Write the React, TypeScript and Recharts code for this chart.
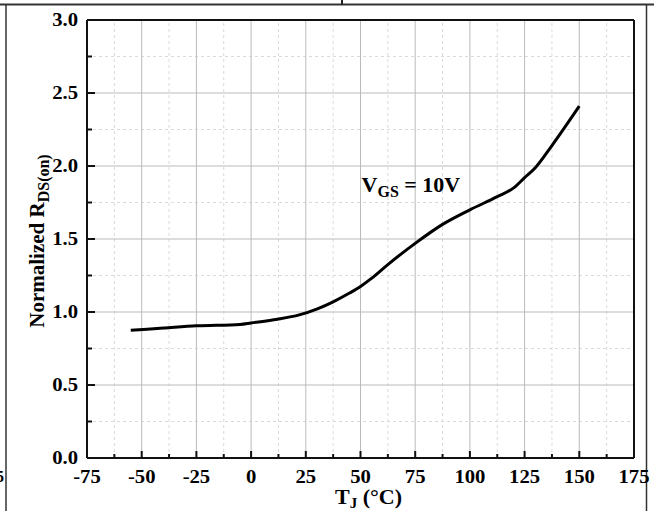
import React from 'react';
import { LineChart, XAxis, YAxis, Line, ReferenceLine, ReferenceDot } from 'recharts';

// junction temperature (°C) and normalized on-resistance
const tempValues = [-55, -40, -25, -5, 0, 12, 22, 30, 37.5, 45, 50, 55, 62.5, 75, 87.5, 100, 112.5, 120, 125, 130, 137.5, 150];
const rdsValues = [0.875, 0.89, 0.905, 0.915, 0.925, 0.95, 0.98, 1.02, 1.07, 1.13, 1.175, 1.23, 1.325, 1.47, 1.6, 1.7, 1.79, 1.85, 1.92, 1.99, 2.14, 2.41];

const xMajor = [-75, -50, -25, 0, 25, 50, 75, 100, 125, 150, 175];
const xMinor = [-62.5, -37.5, -12.5, 12.5, 37.5, 62.5, 87.5, 112.5, 137.5, 162.5];
const yMajor = [0, 0.5, 1, 1.5, 2, 2.5, 3];
const yMinor = [0.25, 0.75, 1.25, 1.75, 2.25, 2.75];

const data = tempValues.map((t, i) => ({ t, r: rdsValues[i] }));

const FONT = '"Liberation Serif", "Times New Roman", serif';

// tick numbers in the source look a little wide, so stretch them sideways
const XTick = (props: any) => {
  const { x, y, payload } = props;
  const major = xMajor.includes(payload.value);
  return (
    <g>
      <line x1={x} x2={x} y1={y} y2={y - (major ? 7 : 4)} stroke="#111" strokeWidth={2} />
      {major && (
        <text
          transform={`translate(${x},${y + 25}) scale(1.15,1)`}
          textAnchor="middle"
          fontFamily={FONT}
          fontWeight="bold"
          fontSize={18}
          fill="#000"
        >
          {payload.value}
        </text>
      )}
    </g>
  );
};

const YTick = (props: any) => {
  const { x, y, payload } = props;
  const major = yMajor.includes(payload.value);
  return (
    <g>
      <line x1={x} x2={x + (major ? 8 : 5)} y1={y} y2={y} stroke="#111" strokeWidth={2} />
      {major && (
        <text
          transform={`translate(${x - 9},${y + 6}) scale(1.15,1)`}
          textAnchor="end"
          fontFamily={FONT}
          fontWeight="bold"
          fontSize={18}
          fill="#000"
        >
          {payload.value.toFixed(1)}
        </text>
      )}
    </g>
  );
};

const YTitle = (props: any) => {
  const { viewBox } = props;
  const cx = viewBox.x + 44;
  const cy = viewBox.y + viewBox.height / 2 + 2;
  return (
    <text transform={`translate(${cx},${cy}) rotate(-90)`} textAnchor="middle" fontFamily={FONT} fontWeight="bold" fontSize={21} fill="#000">
      Normalized R<tspan fontSize={16} dy={5}>DS(on)</tspan>
    </text>
  );
};

const XTitle = (props: any) => {
  const { viewBox } = props;
  const cx = viewBox.x + viewBox.width / 2 + 8;
  const cy = viewBox.y + 46;
  return (
    <text x={cx} y={cy} textAnchor="middle" fontFamily={FONT} fontWeight="bold" fontSize={22} fill="#000">
      T<tspan fontSize={15} dy={4}>J</tspan>
      <tspan dy={-4}> (°C)</tspan>
    </text>
  );
};

const VgsNote = (props: any) => (
  <text x={props.cx} y={props.cy} fontFamily={FONT} fontWeight="bold" fontSize={22} fill="#000">
    V<tspan fontSize={16} dy={5}>GS</tspan>
    <tspan dy={-5}> = 10V</tspan>
  </text>
);

const App = () => {
  return (
    <div style={{ position: 'absolute', left: 0, top: 0, width: 654, height: 511, background: '#fff' }}>
      <svg width={654} height={511} style={{ position: 'absolute', left: 0, top: 0 }}>
        <line x1={0} x2={654} y1={4.5} y2={4.5} stroke="#333" strokeWidth={2} />
        <line x1={6} x2={6} y1={4} y2={511} stroke="#333" strokeWidth={1.5} />
        <line x1={646.5} x2={646.5} y1={4} y2={511} stroke="#333" strokeWidth={1.5} />
        <rect x={341} y={0} width={2} height={5} fill="#222" />
        <text x={-4} y={482} fontFamily={FONT} fontWeight="bold" fontSize={16} fill="#000">5</text>
      </svg>
      <div style={{ position: 'absolute', left: 0, top: 0 }}>
        <LineChart width={654} height={511} data={data} margin={{ top: 20, right: 20, bottom: 0, left: 0 }}>
          <XAxis
            dataKey="t"
            type="number"
            domain={[-75, 175]}
            ticks={[...xMajor, ...xMinor].sort((a, b) => a - b)}
            interval={0}
            height={53}
            tickSize={0}
            tickMargin={0}
            tickLine={false}
            tick={<XTick />}
            axisLine={{ stroke: '#111', strokeWidth: 2 }}
            label={{ content: <XTitle /> }}
          />
          <YAxis
            type="number"
            domain={[0, 3]}
            ticks={[...yMajor, ...yMinor].sort((a, b) => a - b)}
            interval={0}
            width={87}
            tickSize={0}
            tickMargin={0}
            tickLine={false}
            tick={<YTick />}
            axisLine={{ stroke: '#111', strokeWidth: 2 }}
            label={{ content: <YTitle /> }}
          />
          {xMinor.map((v) => (
            <ReferenceLine key={'xm' + v} x={v} stroke="#dadada" strokeDasharray="3 3" />
          ))}
          {yMinor.map((v) => (
            <ReferenceLine key={'ym' + v} y={v} stroke="#dadada" strokeDasharray="3 3" />
          ))}
          {xMajor.slice(1, -1).map((v) => (
            <ReferenceLine key={'xM' + v} x={v} stroke="#bbbbbb" />
          ))}
          {yMajor.slice(1, -1).map((v) => (
            <ReferenceLine key={'yM' + v} y={v} stroke="#bbbbbb" />
          ))}
          <ReferenceLine y={3} stroke="#111" strokeWidth={2} />
          <ReferenceLine x={175} stroke="#111" strokeWidth={2} />
          <Line
            type="monotone"
            dataKey="r"
            stroke="#000"
            strokeWidth={3}
            dot={false}
            isAnimationActive={false}
          />
          <ReferenceDot x={50.5} y={1.824} r={0} shape={<VgsNote />} />
        </LineChart>
      </div>
    </div>
  );
};

export default App;
